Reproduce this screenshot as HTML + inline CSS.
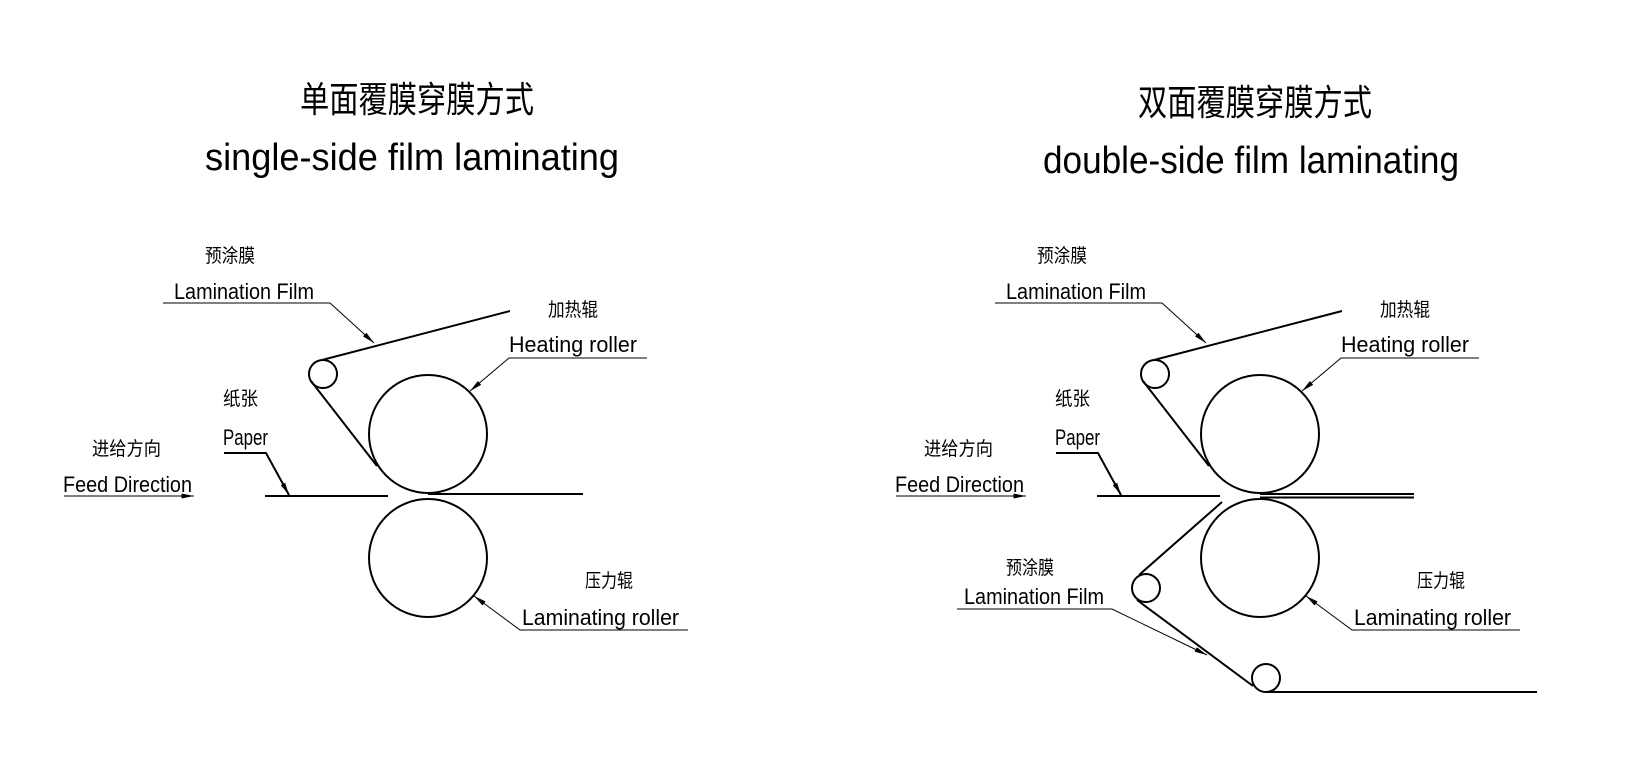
<!DOCTYPE html>
<html><head><meta charset="utf-8"><style>
html,body{margin:0;padding:0;background:#fff}
svg{display:block}
text{font-family:"Liberation Sans Narrow","Liberation Sans","Noto Sans CJK SC",sans-serif;fill:#000}
</style></head><body>
<svg width="1630" height="759" viewBox="0 0 1630 759" xmlns="http://www.w3.org/2000/svg">
<defs>
<marker id="a" viewBox="0 0 10 4" refX="10" refY="2" markerWidth="14" markerHeight="5" markerUnits="userSpaceOnUse" orient="auto"><path d="M0,0 L10,2 L0,4z" fill="#000"/></marker>
</defs>
<!-- Titles -->
<text x="300" y="112" font-size="36" textLength="234" lengthAdjust="spacingAndGlyphs">单面覆膜穿膜方式</text>
<text x="205" y="170" font-size="38" textLength="414" lengthAdjust="spacingAndGlyphs">single-side film laminating</text>
<text x="1138" y="115" font-size="36" textLength="234" lengthAdjust="spacingAndGlyphs">双面覆膜穿膜方式</text>
<text x="1043" y="173" font-size="38" textLength="416" lengthAdjust="spacingAndGlyphs">double-side film laminating</text>

<g id="top" fill="none" stroke="#000">
 <g stroke="none">
 <text x="205" y="262" font-size="19" textLength="50" lengthAdjust="spacingAndGlyphs">预涂膜</text>
 <text x="174" y="299" font-size="22" textLength="140" lengthAdjust="spacingAndGlyphs">Lamination Film</text>
 <text x="548" y="316" font-size="19" textLength="50" lengthAdjust="spacingAndGlyphs">加热辊</text>
 <text x="509" y="352" font-size="22" textLength="128" lengthAdjust="spacingAndGlyphs">Heating roller</text>
 <text x="223" y="405" font-size="19" textLength="35" lengthAdjust="spacingAndGlyphs">纸张</text>
 <text x="223" y="445" font-size="22" textLength="45" lengthAdjust="spacingAndGlyphs">Paper</text>
 <text x="92" y="455" font-size="19" textLength="69" lengthAdjust="spacingAndGlyphs">进给方向</text>
 <text x="63" y="492" font-size="22" textLength="129" lengthAdjust="spacingAndGlyphs">Feed Direction</text>
 <text x="585" y="587" font-size="19" textLength="48" lengthAdjust="spacingAndGlyphs">压力辊</text>
 <text x="522" y="625" font-size="22" textLength="157" lengthAdjust="spacingAndGlyphs">Laminating roller</text>
 </g>
 <g stroke-width="1">
 <path d="M163,303 H330 L374,343" marker-end="url(#a)"/>
 <path d="M647,358 H509 L470,391" marker-end="url(#a)"/>
 <path d="M224,453 H266 L289,495" stroke-width="2" marker-end="url(#a)"/>
 <path d="M64,496 H194" marker-end="url(#a)"/>
 <path d="M688,630 H520 L474,596" marker-end="url(#a)"/>
 </g>
 <g stroke-width="2">
 <circle cx="428" cy="434" r="59"/>
 <circle cx="428" cy="558" r="59"/>
 <circle cx="323" cy="374" r="14"/>
 <path d="M322,360 L510,311"/>
 <path d="M311,381 L377,466"/>
 <path d="M265,496 H388"/>
 </g>
</g>
<use href="#top" x="832" y="0"/>
<path d="M428,494 H583" stroke="#000" stroke-width="2" fill="none"/>
<g fill="none" stroke="#000" stroke-width="2">
 <path d="M1260,494 H1414"/>
 <path d="M1260,497.5 H1414"/>
 <circle cx="1146" cy="588" r="14"/>
 <circle cx="1266" cy="678" r="14"/>
 <path d="M1139,575 L1222,502"/>
 <path d="M1137,600 L1253,686"/>
 <path d="M1266,692 H1537"/>
 <path d="M957,609 H1112 L1207,655" stroke-width="1" marker-end="url(#a)"/>
</g>
<text x="1006" y="574" font-size="19" textLength="48" lengthAdjust="spacingAndGlyphs">预涂膜</text>
<text x="964" y="604" font-size="22" textLength="140" lengthAdjust="spacingAndGlyphs">Lamination Film</text>
</svg>
</body></html>
